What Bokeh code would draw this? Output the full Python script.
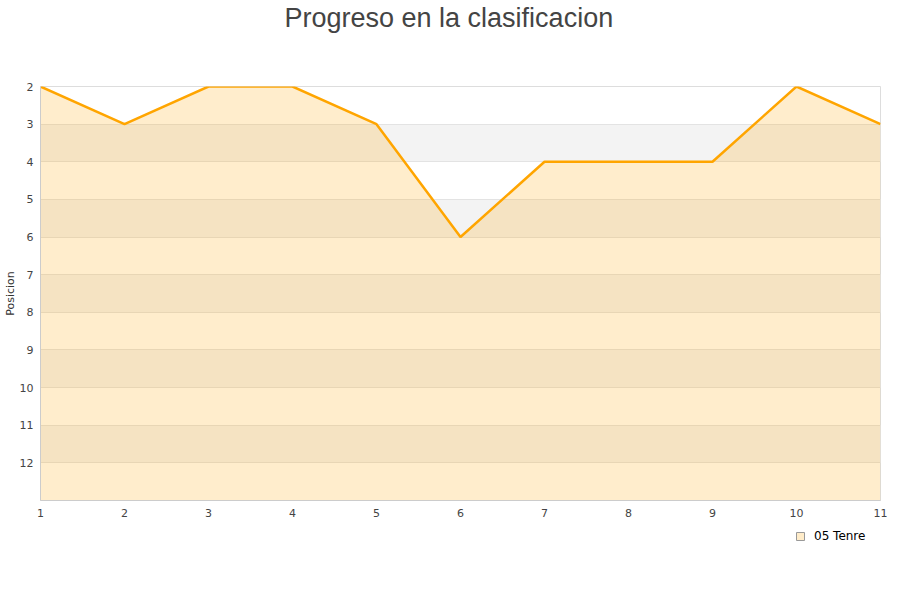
from bokeh.plotting import figure
from bokeh.models import Range1d, Legend, LegendItem, FixedTicker, ColumnDataSource, Title
from bokeh.layouts import column
from bokeh.embed import file_html
from bokeh.resources import INLINE

jornadas = [1, 2, 3, 4, 5, 6, 7, 8, 9, 10, 11]
posicion = [2, 3, 2, 2, 3, 6, 4, 4, 4, 2, 3]
y_ticks = [2, 3, 4, 5, 6, 7, 8, 9, 10, 11, 12]
baseline = 13
series_name = "05 Tenre"
title_text = "Progreso en la clasificacion"
y_label = "Posicion"

FONT = "DejaVu Sans"

p = figure(frame_width=840, frame_height=414, output_backend="svg", toolbar_location=None,
           x_range=Range1d(1, 11), y_range=Range1d(13, 2), title_location=None,
           min_border_left=0, min_border_right=12, min_border_top=0, min_border_bottom=22)

filler = Title(text=" ", text_font_size="46px", standoff=0, offset=0)
p.add_layout(filler, "above")
title = Title(text=title_text, align="left", text_font="Liberation Sans",
              text_font_size="27px", text_font_style="normal", text_color="#444444",
              standoff=0, offset=244)
p.add_layout(title, "above")

p.outline_line_color = "#dddddd"
p.background_fill_color = "white"

p.xaxis.ticker = FixedTicker(ticks=jornadas)
p.yaxis.ticker = FixedTicker(ticks=y_ticks)
for ax in (p.xaxis[0], p.yaxis[0]):
    ax.axis_line_color = "#cccccc"
    ax.major_tick_line_color = None
    ax.minor_tick_line_color = None
    ax.major_tick_out = 0
    ax.major_tick_in = 0
    ax.major_label_text_font = FONT
    ax.major_label_text_font_size = "11px"
    ax.major_label_text_color = "#444444"
p.xaxis.major_label_standoff = 8
p.yaxis.major_label_standoff = 7
p.yaxis.axis_label = y_label
p.yaxis.axis_label_text_font = FONT
p.yaxis.axis_label_text_font_size = "11px"
p.yaxis.axis_label_text_font_style = "normal"
p.yaxis.axis_label_text_color = "#333333"
p.yaxis.axis_label_standoff = 0

p.xgrid.grid_line_color = None
p.ygrid.grid_line_color = "#e3e3e3"
p.ygrid.band_fill_color = "#f3f3f3"
p.ygrid.band_fill_alpha = 1.0

src = ColumnDataSource(dict(x=jornadas, y=posicion, base=[baseline] * len(jornadas)))
area = p.varea(x="x", y1="y", y2="base", source=src, fill_color="#ffa500", fill_alpha=0.2)
line = p.line(x="x", y="y", source=src, line_color="#ffa500", line_width=2.5)

# legend strip below the chart (its swatch renderer uses the series but lies outside its view)
lg = figure(width=884, height=40, output_backend="svg", toolbar_location=None,
            x_axis_location=None, y_axis_location=None,
            min_border=0, x_range=Range1d(100, 101), y_range=Range1d(100, 101))
lg.grid.visible = False
lg.outline_line_color = None
swatch = lg.scatter(x="x", y="y", source=src, marker="square", size=8,
                    fill_color="#ffecc9", line_color="#999999")
legend = Legend(items=[LegendItem(label=series_name, renderers=[swatch])],
                location=(750, 16), orientation="horizontal",
                border_line_color=None, background_fill_alpha=0,
                label_text_font=FONT, label_text_font_size="12px", label_text_color="#000000",
                glyph_width=20, glyph_height=20, label_standoff=4, padding=4, margin=0)
lg.add_layout(legend)

open("out.html", "w").write(file_html(column(p, lg), INLINE))
